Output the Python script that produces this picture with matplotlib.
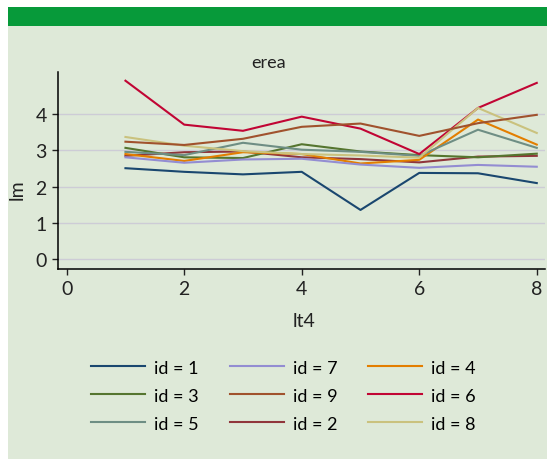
import matplotlib.pyplot as plt
from matplotlib.patches import Rectangle

lt4 = [1, 2, 3, 4, 5, 6, 7, 8]

# lm par id
id1 = [2.51, 2.41, 2.34, 2.41, 1.36, 2.38, 2.37, 2.10]
id2 = [2.85, 2.95, 2.97, 2.81, 2.76, 2.67, 2.83, 2.85]
id3 = [3.07, 2.81, 2.79, 3.17, 2.97, 2.87, 2.81, 2.91]
id4 = [2.90, 2.71, 2.95, 2.90, 2.64, 2.74, 3.85, 3.16]
id5 = [2.96, 2.87, 3.21, 3.02, 2.96, 2.85, 3.57, 3.07]
id6 = [4.92, 3.71, 3.54, 3.93, 3.60, 2.90, 4.17, 4.86]
id7 = [2.81, 2.66, 2.75, 2.77, 2.61, 2.52, 2.60, 2.55]
id8 = [3.37, 3.13, 2.98, 2.90, 2.86, 2.80, 4.17, 3.48]
id9 = [3.24, 3.15, 3.32, 3.65, 3.74, 3.40, 3.75, 3.98]

series = {1: id1, 2: id2, 3: id3, 4: id4, 5: id5, 6: id6, 7: id7, 8: id8, 9: id9}
couleurs = {1: '#1a476f', 2: '#90353b', 3: '#55752f', 4: '#e37e00', 5: '#6e8e84',
            6: '#c10534', 7: '#938dd2', 8: '#cac27e', 9: '#a0522d'}
ordre_legende = [1, 3, 5, 7, 9, 2, 4, 6, 8]

fond = '#dee9d8'
plt.rcParams['font.family'] = ['Lato', 'DejaVu Sans']

W, H = 547, 460
fig = plt.figure(figsize=(W / 100, H / 100), dpi=100)
fig.patch.set_facecolor('white')
fig.patches.append(Rectangle((8 / W, 0), 1, 1 - 8 / H, transform=fig.transFigure,
                             facecolor=fond, edgecolor='none', zorder=-2))
fig.patches.append(Rectangle((8 / W, 1 - 27 / H), 1, 19 / H, transform=fig.transFigure,
                             facecolor='#079a3a', edgecolor='none', zorder=-1))

ax = fig.add_axes([57.7 / W, 1 - 270 / H, (545 - 57.7) / W, (270 - 73) / H])
ax.set_facecolor(fond)
ax.set_zorder(1)

lignes = {}
for k in series:
    l, = ax.plot(lt4, series[k], color=couleurs[k], lw=1.5, label='id = ' + str(k))
    lignes[k] = l

ax.set_xlim(-0.153, 8.14)
ax.set_ylim(-0.267, 5.16)
ax.set_xticks([0, 2, 4, 6, 8])
ax.set_yticks([0, 1, 2, 3, 4])
ax.grid(axis='y', color='#cdccd6', lw=1)
ax.set_axisbelow(True)
for s in ['top', 'right']:
    ax.spines[s].set_visible(False)
for s in ['left', 'bottom']:
    ax.spines[s].set_linewidth(1.1)
ax.tick_params(direction='out', length=4.3, width=1, pad=3.5, labelsize=14, colors='#222222')

fig.text(269 / W, 1 - 68 / H, 'erea', ha='center', va='baseline', fontsize=13, color='#222222')
fig.text(17 / W, 1 - 190 / H, 'lm', ha='center', va='center', rotation=90, fontsize=14, color='#222222')
fig.text(304 / W, 1 - 322 / H, 'lt4', ha='center', va='center', fontsize=14, color='#222222')

fig.legend([lignes[k] for k in ordre_legende], ['id = ' + str(k) for k in ordre_legende],
           ncol=3, loc='center left', bbox_to_anchor=(91 / W, 1 - 396.7 / H),
           frameon=False, fontsize=13, handlelength=3.0, handletextpad=0.5,
           columnspacing=1.7, labelspacing=0.66, borderpad=0, borderaxespad=0)

fig.savefig('out.png', dpi=100, facecolor='white')
